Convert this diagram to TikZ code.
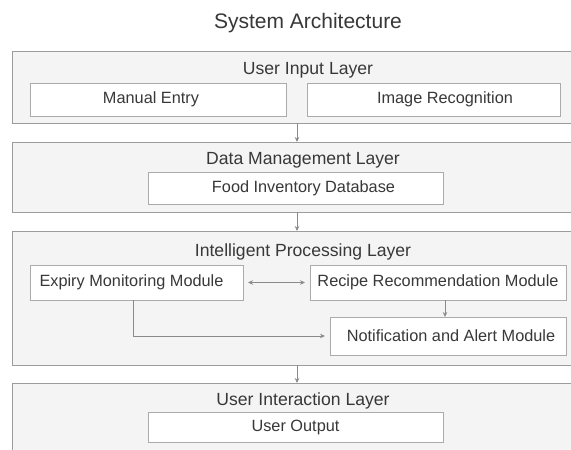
\documentclass[tikz,border=0pt]{standalone}
\usepackage{fontspec}
\setmainfont{Liberation Sans}
\usetikzlibrary{arrows.meta}
\definecolor{txt}{HTML}{383838}
\definecolor{layerfill}{HTML}{F4F4F4}
\definecolor{layerdraw}{HTML}{9C9C9C}
\definecolor{boxdraw}{HTML}{ABABAB}
\definecolor{linec}{HTML}{8A8A8A}
\begin{document}
\begin{tikzpicture}[x=1pt,y=-1pt,
  layerbox/.style={draw=layerdraw, fill=layerfill, line width=1pt, inner sep=0pt, outer sep=0pt, anchor=north west},
  modbox/.style={draw=boxdraw, fill=white, line width=0.9pt, inner sep=0pt, outer sep=0pt, anchor=north west, font=\fontsize{16.3}{18}\selectfont, text=txt},
  layertitle/.style={anchor=base, font=\fontsize{17.6}{20}\selectfont, text=txt, inner sep=0pt},
  titletext/.style={anchor=base, font=\fontsize{21}{24}\selectfont, text=txt, inner sep=0pt},
  conn/.style={draw=linec, line width=0.9pt, -{Stealth[length=5pt,width=4.5pt]}},
  conntwo/.style={draw=linec, line width=0.9pt, {Stealth[length=5pt,width=4.5pt]}-{Stealth[length=5pt,width=4.5pt]}},
]
\useasboundingbox[fill=white] (0,0) rectangle (571,450);
\clip (0,0) rectangle (571,450);

\node[titletext] (title) at (308,28) {System Architecture};

% Layer 1
\node[layerbox, minimum width=590pt, minimum height=72pt] (L1) at (12,51) {};
\node[layertitle] (L1t) at (308,74) {User Input Layer};
\node[modbox, minimum width=256pt, minimum height=33pt] (ME) at (30,83) {Manual Entry\hspace*{14pt}};
\node[modbox, minimum width=253pt, minimum height=33pt] (IR) at (307,83) {\hspace*{23pt}Image Recognition};

% Layer 2
\node[layerbox, minimum width=590pt, minimum height=70pt] (L2) at (12,142) {};
\node[layertitle] (L2t) at (303,164) {Data Management Layer};
\node[modbox, minimum width=295pt, minimum height=32pt] (FD) at (148,172) {\hspace*{16pt}Food Inventory Database};

% Layer 3
\node[layerbox, minimum width=590pt, minimum height=134pt] (L3) at (12,231) {};
\node[layertitle] (L3t) at (303,256) {Intelligent Processing Layer};
\node[modbox, minimum width=213pt, minimum height=35pt] (EM) at (30,265) {Expiry Monitoring Module\hspace*{10pt}};
\node[modbox, minimum width=256pt, minimum height=35pt] (RR) at (310,265) {Recipe Recommendation Module};
\node[modbox, minimum width=236pt, minimum height=38pt] (NA) at (330,317) {\hspace*{6pt}Notification and Alert Module};

% Layer 4
\node[layerbox, minimum width=590pt, minimum height=80pt] (L4) at (12,383) {};
\node[layertitle] (L4t) at (303,405) {User Interaction Layer};
\node[modbox, minimum width=295pt, minimum height=30pt] (UO) at (148,412) {User Output};

% connectors between layers
\draw[conn] ([xshift=285pt]L1.south west) -- ([xshift=285pt]L2.north west);
\draw[conn] ([xshift=285pt]L2.south west) -- ([xshift=285pt]L3.north west);
\draw[conn] ([xshift=285pt]L3.south west) -- ([xshift=285pt]L4.north west);

% connectors inside processing layer
\draw[conntwo] ([xshift=5pt]EM.east) -- ([xshift=-5pt]RR.west);
\draw[conn] ([xshift=135pt]RR.south west) -- ([xshift=115pt]NA.north west);
\draw[conn] ([xshift=103pt]EM.south west) |- ([xshift=-5pt]NA.west);
\end{tikzpicture}
\end{document}
